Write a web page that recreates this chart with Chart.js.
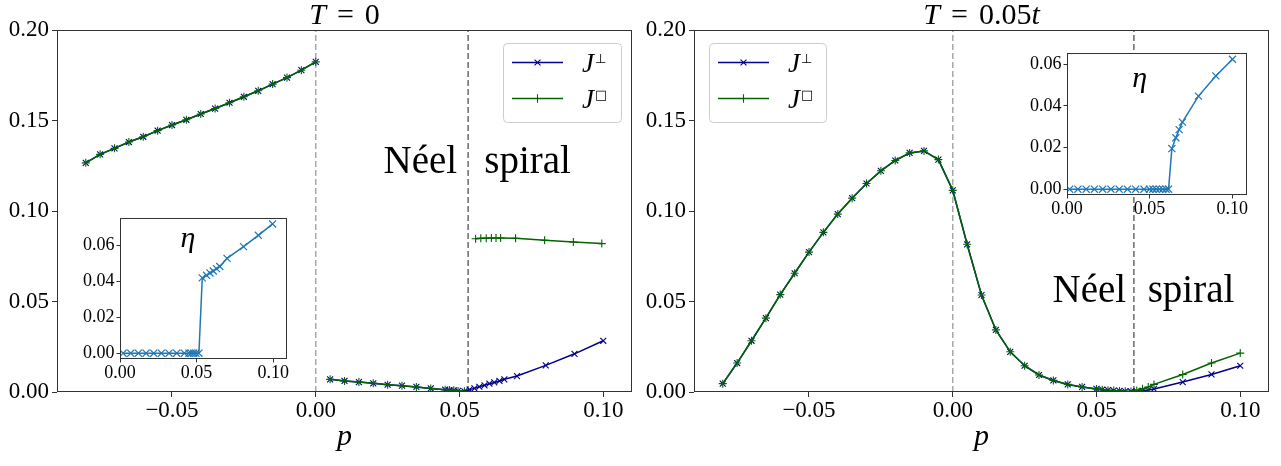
<!DOCTYPE html>
<html>
<head>
<meta charset="utf-8">
<script src="https://cdn.jsdelivr.net/npm/chart.js@4/dist/chart.umd.min.js"></script>
<style>
  html, body { margin: 0; padding: 0; background: #fff; }
  #wrap { position: relative; width: 1281px; height: 466px; overflow: hidden; }
  canvas { position: absolute; }
</style>
</head>
<body>
<div id="wrap">
  <canvas id="mainL" width="640" height="466" style="left:0;top:0;width:640px;height:466px"></canvas>
  <canvas id="mainR" width="641" height="466" style="left:640px;top:0;width:641px;height:466px"></canvas>
  <canvas id="insetL" width="240" height="185" style="left:55px;top:205px;width:240px;height:185px"></canvas>
  <canvas id="insetR" width="250" height="185" style="left:1005px;top:40px;width:250px;height:185px"></canvas>
</div>
<script>
// tick labels
const pTicks = [-0.05, 0, 0.05, 0.10];
const jTicks = [0, 0.05, 0.10, 0.15, 0.20];
const etaXTicks = [0, 0.05, 0.10];
const etaYTicks = [0, 0.02, 0.04, 0.06];

// T = 0 : phase boundaries and J values
const bounds0 = [0, 0.053];
const p0Left = [-0.08, -0.075, -0.07, -0.065, -0.06, -0.055, -0.05, -0.045, -0.04, -0.035, -0.03, -0.025, -0.02, -0.015, -0.01, -0.005, 0];
const j0Left = [0.1266, 0.1313, 0.1346, 0.1381, 0.1410, 0.1444, 0.1475, 0.1504, 0.1536, 0.1566, 0.1598, 0.1631, 0.1664, 0.1701, 0.1737, 0.1778, 0.1824];
const p0Neel = [0.005, 0.01, 0.015, 0.02, 0.025, 0.03, 0.035, 0.04, 0.045, 0.0465, 0.048, 0.0495, 0.0517];
const j0Neel = [0.0070, 0.0061, 0.0055, 0.0048, 0.0040, 0.0035, 0.0028, 0.0020, 0.0013, 0.0011, 0.0009, 0.0006, 0.0004];
const p0SpiralPerp = [0.0535, 0.0552, 0.0569, 0.0587, 0.0604, 0.0621, 0.0639, 0.0656, 0.07, 0.08, 0.09, 0.10];
const jPerp0Spiral = [0.0013, 0.0020, 0.0029, 0.0037, 0.0046, 0.0053, 0.0061, 0.0070, 0.0088, 0.0147, 0.0211, 0.0283];
const p0SpiralBox = [0.0556, 0.0574, 0.0593, 0.0611, 0.0627, 0.0643, 0.0695, 0.0796, 0.0896, 0.0995];
const jBox0Spiral = [0.0847, 0.0849, 0.0850, 0.0851, 0.0851, 0.0851, 0.0849, 0.0838, 0.0829, 0.0820];

// T = 0.05t
const bounds5 = [0, 0.063];
const p5Neel = [-0.08, -0.075, -0.07, -0.065, -0.06, -0.055, -0.05, -0.045, -0.04, -0.035, -0.03, -0.025, -0.02, -0.015, -0.01, -0.005, 0, 0.005, 0.01, 0.015, 0.02, 0.025, 0.03, 0.035, 0.04, 0.045, 0.05, 0.052, 0.054, 0.056, 0.058, 0.06, 0.062];
const j5Neel = [0.0046, 0.0160, 0.0283, 0.0408, 0.0538, 0.0656, 0.0773, 0.0882, 0.0983, 0.1071, 0.1152, 0.1222, 0.1279, 0.1321, 0.1332, 0.1284, 0.1114, 0.0816, 0.0536, 0.0343, 0.0222, 0.0145, 0.0094, 0.0064, 0.0042, 0.0028, 0.0017, 0.0013, 0.0010, 0.0008, 0.0006, 0.0004, 0.0003];
const p5Spiral = [0.064, 0.066, 0.068, 0.07, 0.08, 0.09, 0.10];
const jPerp5Spiral = [0.0004, 0.0007, 0.0011, 0.0017, 0.0055, 0.0097, 0.0145];
const jBox5Spiral = [0.0008, 0.0018, 0.0028, 0.0042, 0.0097, 0.0160, 0.0215];

// insets: order parameter eta
const etaP0 = [0.002, 0.007, 0.012, 0.017, 0.022, 0.027, 0.032, 0.037, 0.042, 0.045, 0.0465, 0.048, 0.0495, 0.0515, 0.0537, 0.0565, 0.0587, 0.0609, 0.063, 0.0651, 0.0699, 0.0806, 0.0903, 0.0996];
const eta0 = [0, 0, 0, 0, 0, 0, 0, 0, 0, 0, 0, 0, 0, 0, 0.0418, 0.0432, 0.0445, 0.0456, 0.0469, 0.0481, 0.0526, 0.0591, 0.0654, 0.0717];
const etaP5 = [0.0016, 0.0066, 0.0116, 0.0166, 0.0216, 0.0266, 0.0316, 0.0366, 0.0416, 0.0466, 0.050, 0.052, 0.054, 0.056, 0.058, 0.060, 0.0615, 0.0635, 0.0659, 0.0679, 0.0699, 0.0796, 0.0901, 0.1002];
const eta5 = [0, 0, 0, 0, 0, 0, 0, 0, 0, 0, 0, 0, 0, 0, 0, 0, 0, 0.0195, 0.0247, 0.0286, 0.0322, 0.0447, 0.0544, 0.0624];

const BLUE = '#00008b', GREEN = '#006400', ETA = '#1f77b4';
const SERIF = '"Liberation Serif", "DejaVu Serif", serif';
const SYM = '"DejaVu Sans", sans-serif';
Chart.defaults.font.family = SERIF;
Chart.defaults.color = '#000';

const pts = (xs, ys) => xs.map((x, i) => ({x, y: ys[i]}));
const gap = x => ({x, y: null});
const fmt = v => (v < -1e-9 ? '\u2212' : '') + Math.abs(v).toFixed(2);

function richWidth(ctx, parts) {
  let w = 0;
  parts.forEach(pt => { ctx.font = pt.font; w += ctx.measureText(pt.t).width + (pt.gap || 0); });
  return w;
}
function drawRich(ctx, parts, x, y) {
  let cx = x;
  parts.forEach(pt => {
    ctx.font = pt.font;
    ctx.fillText(pt.t, cx, y + (pt.dy || 0));
    cx += ctx.measureText(pt.t).width + (pt.gap || 0);
  });
}
function marker(ctx, kind, cx, cy, r) {
  ctx.beginPath();
  if (kind === 'x') {
    const d = r * 0.7071;
    ctx.moveTo(cx - d, cy - d); ctx.lineTo(cx + d, cy + d);
    ctx.moveTo(cx - d, cy + d); ctx.lineTo(cx + d, cy - d);
  } else {
    ctx.moveTo(cx - r, cy); ctx.lineTo(cx + r, cy);
    ctx.moveTo(cx, cy - r); ctx.lineTo(cx, cy + r);
  }
  ctx.stroke();
}

// frame, titles, annotations and legend box
function makeDecor(o) {
  return {
    id: 'decor',
    beforeDraw(chart) {
      if (!o.whiteBg) return;
      const a = chart.chartArea, ctx = chart.ctx;
      ctx.save();
      ctx.fillStyle = '#fff';
      ctx.fillRect(a.left, a.top, a.right - a.left, a.bottom - a.top);
      ctx.restore();
    },
    afterDraw(chart) {
      const {ctx, chartArea: a, scales: {x, y}} = chart;
      ctx.save();
      ctx.strokeStyle = '#333';
      ctx.lineWidth = 1;
      ctx.strokeRect(Math.round(a.left) + 0.5, Math.round(a.top) + 0.5,
        Math.round(a.right - a.left) - 1, Math.round(a.bottom - a.top) - 1);

      ctx.fillStyle = '#000';
      (o.texts || []).forEach(t => {
        ctx.font = t.font;
        ctx.textAlign = t.align;
        ctx.textBaseline = t.baseline || 'alphabetic';
        ctx.fillText(t.text, x.getPixelForValue(t.x), y.getPixelForValue(t.y));
      });
      ctx.textAlign = 'left';
      ctx.textBaseline = 'alphabetic';

      if (o.title) {
        const w = richWidth(ctx, o.title);
        drawRich(ctx, o.title, (a.left + a.right) / 2 - w / 2, 23.5);
      }

      if (o.legend) {
        const L = o.legend;
        ctx.beginPath();
        ctx.roundRect(L.x + 0.5, L.y + 0.5, L.w, L.h, 4);
        ctx.fillStyle = 'rgba(255,255,255,0.8)';
        ctx.fill();
        ctx.strokeStyle = '#cccccc';
        ctx.stroke();
        L.items.forEach((it, i) => {
          const ly = L.y + 19.5 + i * 36;
          ctx.strokeStyle = it.color;
          ctx.lineWidth = 1.5;
          ctx.beginPath();
          ctx.moveTo(L.x + 9, ly); ctx.lineTo(L.x + 60, ly);
          ctx.stroke();
          ctx.lineWidth = 1.1;
          marker(ctx, it.marker, L.x + 34.5, ly, 4.2);
          ctx.fillStyle = '#000';
          drawRich(ctx, [
            {t: 'J', font: 'italic 27px ' + SERIF, gap: 1},
            {t: it.sup, font: '13px ' + SYM, dy: -9}
          ], L.x + 79, ly + 9);
        });
      }
      ctx.restore();
    }
  };
}

function mainChart(id, c) {
  const datasets = c.bounds.map((b, i) => ({
    data: [{x: b, y: 0}, {x: b, y: 0.2}],
    borderColor: c.boundColors[i], borderWidth: 1.5, borderDash: [6, 3],
    pointRadius: 0, order: 3
  }));
  datasets.push({
    label: 'J perp', data: c.perp, borderColor: BLUE, borderWidth: 1.5,
    pointStyle: 'crossRot', pointRadius: 4.2, pointBorderWidth: 1.1,
    pointBorderColor: BLUE, pointBackgroundColor: BLUE, order: 2
  });
  datasets.push({
    label: 'J box', data: c.box, borderColor: GREEN, borderWidth: 1.5,
    pointStyle: 'cross', pointRadius: 4, pointBorderWidth: 1.1,
    pointBorderColor: GREEN, pointBackgroundColor: GREEN, order: 1
  });
  return new Chart(document.getElementById(id), {
    type: 'line',
    data: {datasets},
    plugins: [makeDecor(c.decor)],
    options: {
      responsive: false, animation: false, events: [], devicePixelRatio: 1,
      spanGaps: false,
      layout: {padding: {top: 30, right: c.padRight, left: 0, bottom: 0}},
      elements: {line: {tension: 0}},
      scales: {
        x: {
          type: 'linear', min: -0.09, max: 0.11,
          afterBuildTicks: s => { s.ticks = pTicks.map(v => ({value: v})); },
          afterFit: s => { s.height = 74; },
          ticks: {font: {family: SERIF, size: 23}, color: '#000', padding: 0, maxRotation: 0, autoSkip: false, callback: fmt},
          grid: {drawOnChartArea: false, tickLength: 5, tickColor: '#333', tickWidth: 1},
          border: {display: false},
          title: {display: true, text: 'p', color: '#000', font: {family: SERIF, size: 30, style: 'italic'}, padding: {top: 0, bottom: 11}}
        },
        y: {
          type: 'linear', min: 0, max: 0.2,
          afterBuildTicks: s => { s.ticks = jTicks.map(v => ({value: v})); },
          afterFit: s => { s.width = c.yWidth; },
          ticks: {font: {family: SERIF, size: 23}, color: '#000', padding: 3, autoSkip: false, callback: fmt},
          grid: {drawOnChartArea: false, tickLength: 5, tickColor: '#333', tickWidth: 1},
          border: {display: false}
        }
      },
      plugins: {legend: {display: false}, tooltip: {enabled: false}}
    }
  });
}

function insetChart(id, c) {
  return new Chart(document.getElementById(id), {
    type: 'line',
    data: {datasets: [{
      data: pts(c.p, c.eta), borderColor: ETA, borderWidth: 1.5,
      pointStyle: 'crossRot', pointRadius: 5, pointBorderWidth: 1.2,
      pointBorderColor: ETA, pointBackgroundColor: ETA
    }]},
    plugins: [makeDecor({whiteBg: true, texts: [
      {text: '\u03b7', x: c.labelX, y: c.labelY, font: 'italic 30px ' + SERIF, align: 'center', baseline: 'middle'}
    ]})],
    options: {
      responsive: false, animation: false, events: [], devicePixelRatio: 1,
      layout: {padding: {top: c.top, right: c.right, left: 0, bottom: 0}},
      elements: {line: {tension: 0}},
      scales: {
        x: {
          type: 'linear', min: 0, max: 0.109,
          afterBuildTicks: s => { s.ticks = etaXTicks.map(v => ({value: v})); },
          afterFit: s => { s.height = c.xHeight; },
          ticks: {font: {family: SERIF, size: 18}, color: '#000', padding: 0, maxRotation: 0, autoSkip: false, callback: fmt},
          grid: {drawOnChartArea: false, tickLength: 3.5, tickColor: '#333', tickWidth: 1},
          border: {display: false}
        },
        y: {
          type: 'linear', min: c.yMin, max: c.yMax,
          afterBuildTicks: s => { s.ticks = etaYTicks.map(v => ({value: v})); },
          afterFit: s => { s.width = c.yWidth; },
          ticks: {font: {family: SERIF, size: 18}, color: '#000', padding: 2, autoSkip: false, callback: fmt},
          grid: {drawOnChartArea: false, tickLength: 3.5, tickColor: '#333', tickWidth: 1},
          border: {display: false}
        }
      },
      plugins: {legend: {display: false}, tooltip: {enabled: false}}
    }
  });
}

const legendItems = [
  {color: BLUE, marker: 'x', sup: '\u22a5'},
  {color: GREEN, marker: '+', sup: '\u25a1'}
];
const NEEL_FONT = '39px ' + SERIF;

mainChart('mainL', {
  bounds: bounds0, boundColors: ['#a8a8a8', '#6a6a6a'],
  perp: [...pts(p0Left, j0Left), gap(0.0025), ...pts(p0Neel, j0Neel), ...pts(p0SpiralPerp, jPerp0Spiral)],
  box: [...pts(p0Left, j0Left), gap(0.0025), ...pts(p0Neel, j0Neel), gap(0.054), ...pts(p0SpiralBox, jBox0Spiral)],
  yWidth: 57, padRight: 8,
  decor: {
    title: [
      {t: 'T', font: 'italic 30px ' + SERIF, gap: 11},
      {t: '=', font: '30px ' + SERIF, gap: 11},
      {t: '0', font: '30px ' + SERIF}
    ],
    texts: [
      {text: 'N\u00e9el', x: 0.0492, y: 0.121, font: NEEL_FONT, align: 'right'},
      {text: 'spiral', x: 0.0586, y: 0.121, font: NEEL_FONT, align: 'left'}
    ],
    legend: {x: 503, y: 43, w: 118, h: 79, items: legendItems}
  }
});

mainChart('mainR', {
  bounds: bounds5, boundColors: ['#a8a8a8', '#6a6a6a'],
  perp: [...pts(p5Neel, j5Neel), ...pts(p5Spiral, jPerp5Spiral)],
  box: [...pts(p5Neel, j5Neel), ...pts(p5Spiral, jBox5Spiral)],
  yWidth: 54, padRight: 12,
  decor: {
    title: [
      {t: 'T', font: 'italic 30px ' + SERIF, gap: 11},
      {t: '=', font: '30px ' + SERIF, gap: 11},
      {t: '0.05', font: '30px ' + SERIF},
      {t: 't', font: 'italic 30px ' + SERIF}
    ],
    texts: [
      {text: 'N\u00e9el', x: 0.0603, y: 0.05, font: NEEL_FONT, align: 'right'},
      {text: 'spiral', x: 0.0678, y: 0.05, font: NEEL_FONT, align: 'left'}
    ],
    legend: {x: 69, y: 43, w: 117, h: 79, items: legendItems}
  }
});

insetChart('insetL', {
  p: etaP0, eta: eta0, yMin: -0.0032, yMax: 0.0751,
  yWidth: 65, xHeight: 31, top: 9, right: 8,
  labelX: 0.0444, labelY: 0.0634
});

insetChart('insetR', {
  p: etaP5, eta: eta5, yMin: -0.0028, yMax: 0.0655,
  yWidth: 62, xHeight: 30, top: 10, right: 8,
  labelX: 0.044, labelY: 0.0528
});
</script>
</body>
</html>
